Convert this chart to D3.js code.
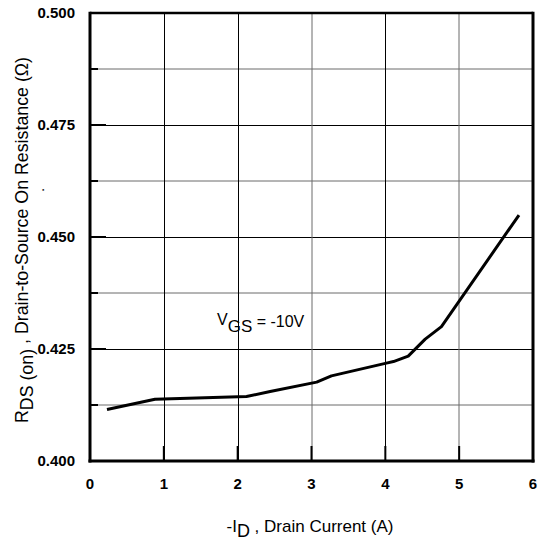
<!DOCTYPE html>
<html>
<head>
<meta charset="utf-8">
<script src="https://cdn.jsdelivr.net/npm/d3@7"></script>
<style>
  html, body { margin: 0; padding: 0; background: #fff; }
  svg { display: block; font-family: "Liberation Sans", Arial, Helvetica, sans-serif; }
</style>
</head>
<body>
<svg id="chart" width="539" height="540"></svg>
<script>
// Data
const currentA = [0.23, 0.88, 2.12, 2.44, 3.07, 3.27, 4.00, 4.11, 4.31, 4.54, 4.76, 5.81];
const rdsOn    = [0.4115, 0.4138, 0.4144, 0.4155, 0.4176, 0.4190, 0.4218, 0.4222, 0.4234, 0.4272, 0.4300, 0.4549];
const xTicks = [0, 1, 2, 3, 4, 5, 6];
const yTicks = [0.400, 0.425, 0.450, 0.475, 0.500];
const yMinorTicks = [0.4125, 0.4375, 0.4625, 0.4875];
const xTickLabels = ["0", "1", "2", "3", "4", "5", "6"];
const yTickLabels = ["0.400", "0.425", "0.450", "0.475", "0.500"];

const svg = d3.select("#chart");
const margin = {left: 90, right: 6, top: 13, bottom: 79};
const W = 539, H = 540;
const x = d3.scaleLinear().domain([0, 6]).range([margin.left, W - margin.right]);
const y = d3.scaleLinear().domain([0.400, 0.500]).range([H - margin.bottom, margin.top]);

const g = svg.append("g");

// Horizontal gridlines
g.selectAll(".hmaj").data(yTicks.slice(1, -1)).enter().append("line")
  .attr("x1", x(0)).attr("x2", x(6))
  .attr("y1", d => Math.round(y(d)) + 0.5).attr("y2", d => Math.round(y(d)) + 0.5)
  .attr("stroke", "#000").attr("stroke-width", 1);
g.selectAll(".hmin").data(yMinorTicks).enter().append("line")
  .attr("x1", x(0)).attr("x2", x(6))
  .attr("y1", d => Math.round(y(d))).attr("y2", d => Math.round(y(d)))
  .attr("stroke", "#6a6a6a").attr("stroke-width", 1);

// Vertical gridlines
const vDark = [1, 2, 4];
g.selectAll(".v").data(xTicks.slice(1, -1)).enter().append("line")
  .attr("x1", d => vDark.includes(d) ? Math.round(x(d)) + 0.5 : Math.round(x(d)))
  .attr("x2", d => vDark.includes(d) ? Math.round(x(d)) + 0.5 : Math.round(x(d)))
  .attr("y1", y(0.5)).attr("y2", y(0.4))
  .attr("stroke", d => vDark.includes(d) ? "#000" : "#6a6a6a").attr("stroke-width", 1);

// Tick marks (inside)
g.selectAll(".xt").data(xTicks.slice(1, -1)).enter().append("line")
  .attr("x1", d => x(d)).attr("x2", d => x(d))
  .attr("y1", y(0.4)).attr("y2", y(0.4) - 15)
  .attr("stroke", "#000").attr("stroke-width", 2);
g.selectAll(".yt").data(yTicks.slice(1, -1)).enter().append("line")
  .attr("x1", x(0)).attr("x2", x(0) + 16)
  .attr("y1", d => y(d)).attr("y2", d => y(d))
  .attr("stroke", "#000").attr("stroke-width", 2);
g.selectAll(".ymt").data(yMinorTicks).enter().append("line")
  .attr("x1", x(0)).attr("x2", x(0) + 8)
  .attr("y1", d => y(d)).attr("y2", d => y(d))
  .attr("stroke", "#000").attr("stroke-width", 2);

// Frame
g.append("line").attr("x1", x(0)).attr("x2", x(6)).attr("y1", y(0.5)).attr("y2", y(0.5)).attr("stroke", "#000").attr("stroke-width", 2.5);
g.append("line").attr("x1", x(6)).attr("x2", x(6)).attr("y1", y(0.5) - 1.2).attr("y2", y(0.4) + 1.5).attr("stroke", "#000").attr("stroke-width", 3);
g.append("line").attr("x1", x(0)).attr("x2", x(0)).attr("y1", y(0.5) - 1.2).attr("y2", y(0.4) + 1.5).attr("stroke", "#000").attr("stroke-width", 3);
g.append("line").attr("x1", x(0) - 1.5).attr("x2", x(6) + 1.5).attr("y1", y(0.4)).attr("y2", y(0.4)).attr("stroke", "#000").attr("stroke-width", 3);

// Curve
const pts = currentA.map((c, i) => [c, rdsOn[i]]);
g.append("path").datum(pts)
  .attr("d", d3.line().x(d => x(d[0])).y(d => y(d[1])))
  .attr("fill", "none").attr("stroke", "#000").attr("stroke-width", 3)
  .attr("stroke-linejoin", "round");

// Tick labels
g.selectAll(".xl").data(xTicks).enter().append("text")
  .attr("x", d => x(d)).attr("y", 489)
  .attr("text-anchor", "middle").attr("font-size", 15).attr("font-weight", "bold")
  .text((d, i) => xTickLabels[i]);
g.selectAll(".yl").data(yTicks).enter().append("text")
  .attr("x", 75).attr("y", d => y(d)).attr("dy", "0.36em")
  .attr("text-anchor", "end").attr("font-size", 15).attr("font-weight", "bold")
  .text((d, i) => yTickLabels[i]);

// X axis title
const xt = g.append("text").attr("x", 310).attr("y", 532).attr("text-anchor", "middle").attr("font-size", 17);
xt.append("tspan").text("-I");
xt.append("tspan").attr("dy", 5).attr("font-size", 18).text("D");
xt.append("tspan").attr("dy", -5).text(" , Drain Current (A)");

// Y axis title
const yt = g.append("text").attr("transform", "translate(28,240) rotate(-90)")
  .attr("text-anchor", "middle").attr("font-size", 17.8);
yt.append("tspan").text("R");
yt.append("tspan").attr("dy", 5).text("DS (on)");
yt.append("tspan").attr("dy", -5).text(" , Drain-to-Source On Resistance (Ω)");

// Stray dot
g.append("text").attr("transform", "translate(44,190) rotate(-90)").attr("text-anchor", "middle").attr("font-size", 15).text(".");

// Annotation
const an = g.append("text").attr("x", 217).attr("y", 325).attr("font-size", 16);
an.append("tspan").text("V");
an.append("tspan").attr("dy", 7).attr("font-size", 17).text("GS");
an.append("tspan").attr("dy", -5).text(" = -10V");
</script>
</body>
</html>
